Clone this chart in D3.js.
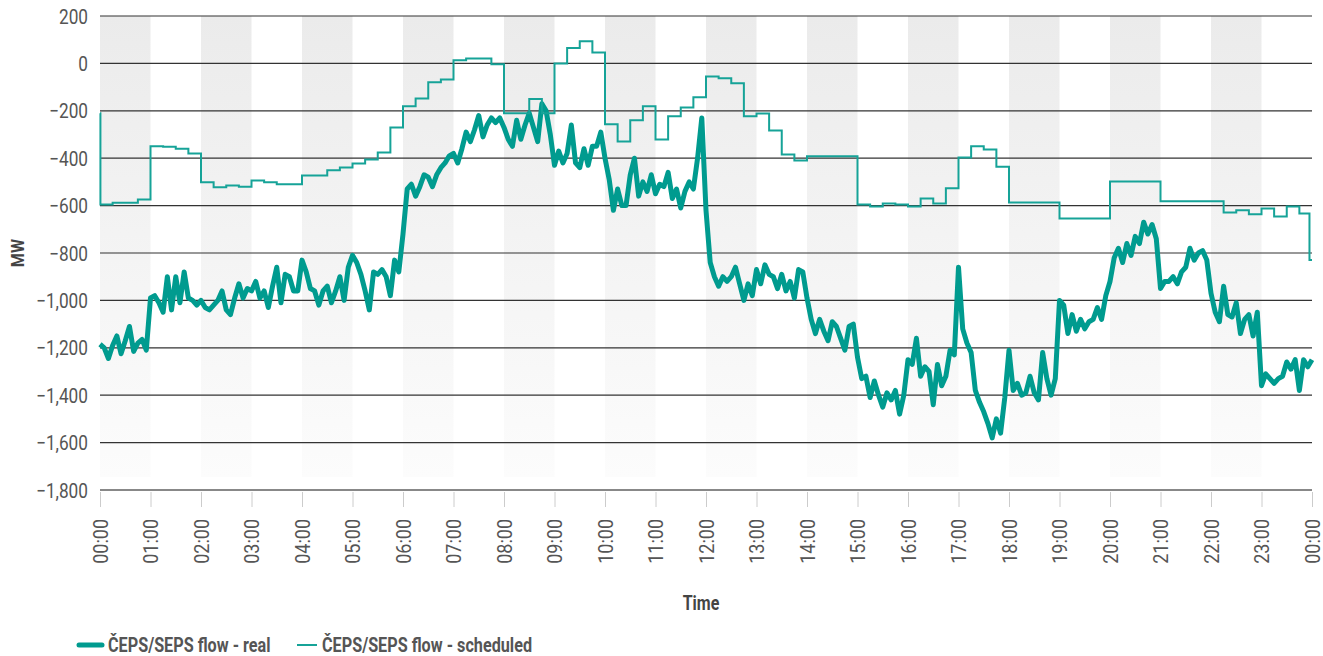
<!DOCTYPE html>
<html>
<head>
<meta charset="utf-8">
<script src="https://cdn.jsdelivr.net/npm/d3@7"></script>
<style>
  body { margin: 0; background: #fff; }
  text { font-family: Roboto, "DejaVu Sans", sans-serif; }
</style>
</head>
<body>
<div id="chart"></div>
<script>
// Real flow, one value every 5 minutes, one array per hour (MW)
const real00 = [-1185, -1200, -1245, -1190, -1150, -1225, -1170, -1110, -1215, -1180, -1165, -1210];
const real01 = [-990, -980, -1010, -1050, -900, -1040, -900, -1010, -880, -990, -1000, -1020];
const real02 = [-1000, -1030, -1040, -1020, -1000, -960, -1040, -1060, -990, -930, -990, -950];
const real03 = [-960, -920, -990, -960, -1030, -940, -860, -1010, -890, -900, -960, -960];
const real04 = [-830, -880, -950, -960, -1020, -960, -940, -1010, -960, -900, -1000, -860];
const real05 = [-810, -840, -890, -960, -1040, -880, -890, -870, -900, -980, -830, -880];
const real06 = [-720, -530, -510, -560, -520, -470, -480, -520, -470, -440, -420, -390];
const real07 = [-380, -420, -360, -290, -330, -280, -220, -310, -260, -230, -250, -230];
const real08 = [-270, -320, -350, -240, -320, -260, -210, -270, -330, -170, -200, -300];
const real09 = [-430, -370, -420, -380, -260, -420, -440, -360, -430, -350, -350, -290];
const real10 = [-400, -490, -620, -530, -600, -600, -470, -400, -560, -500, -540, -470];
const real11 = [-550, -510, -520, -460, -570, -530, -610, -540, -500, -530, -400, -230];
const real12 = [-620, -840, -900, -940, -900, -920, -900, -860, -930, -1000, -930, -980];
const real13 = [-870, -930, -850, -890, -900, -950, -890, -960, -920, -990, -870, -880];
const real14 = [-990, -1080, -1140, -1080, -1130, -1170, -1090, -1110, -1160, -1210, -1110, -1100];
const real15 = [-1240, -1330, -1320, -1410, -1340, -1400, -1450, -1390, -1420, -1380, -1480, -1400];
const real16 = [-1250, -1270, -1160, -1320, -1280, -1300, -1440, -1270, -1360, -1320, -1210, -1230];
const real17 = [-860, -1120, -1180, -1220, -1380, -1430, -1470, -1520, -1580, -1500, -1560, -1410];
const real18 = [-1210, -1380, -1350, -1400, -1390, -1320, -1390, -1420, -1220, -1330, -1400, -1330];
const real19 = [-1000, -1020, -1140, -1060, -1130, -1080, -1120, -1090, -1080, -1030, -1080, -980];
const real20 = [-920, -820, -780, -840, -760, -810, -730, -760, -670, -720, -680, -740];
const real21 = [-950, -920, -920, -900, -930, -880, -860, -780, -830, -800, -790, -830];
const real22 = [-970, -1050, -1090, -940, -1060, -1070, -1010, -1140, -1080, -1060, -1150, -1050];
const real23 = [-1360, -1310, -1330, -1350, -1330, -1320, -1260, -1290, -1250, -1380, -1250, -1280];
const realEnd = [-1250];

// Scheduled flow: [minute of day, MW] at each step change
const scheduledSteps = [
  [0, -210], [0.5, -595], [15, -588], [45, -574], [60, -350], [75, -352], [90, -360],
  [105, -380], [120, -502], [135, -523], [150, -515], [165, -520], [180, -494], [195, -502],
  [210, -510], [240, -473], [270, -451], [285, -439], [300, -422], [315, -405], [330, -376],
  [345, -270], [360, -181], [375, -148], [390, -80], [405, -68], [420, 13], [435, 21],
  [465, -4], [480, -210], [510, -150], [525, -210], [540, 0], [555, 65], [570, 93],
  [585, 46], [600, -257], [615, -330], [630, -240], [645, -181], [660, -321], [675, -223],
  [690, -186], [705, -143], [720, -55], [735, -63], [750, -84], [765, -223], [780, -211],
  [795, -283], [810, -384], [825, -410], [840, -392], [900, -595], [915, -604], [930, -591],
  [945, -595], [960, -604], [975, -570], [990, -591], [1005, -527], [1020, -397], [1035, -350],
  [1050, -363], [1065, -436], [1080, -587], [1140, -654], [1200, -498], [1260, -582],
  [1335, -629], [1350, -620], [1365, -637], [1380, -612], [1395, -646], [1410, -604],
  [1425, -633], [1437, -830], [1440, -830]
];

const yTicks = [200, 0, -200, -400, -600, -800, -1000, -1200, -1400, -1600, -1800];
const hourTicks = d3.range(0, 25);
const seriesNames = ["ČEPS/SEPS flow - real", "ČEPS/SEPS flow - scheduled"];

// Build the real series as [minute, value]
const realValues = [].concat(real00, real01, real02, real03, real04, real05, real06, real07,
  real08, real09, real10, real11, real12, real13, real14, real15, real16, real17,
  real18, real19, real20, real21, real22, real23, realEnd);
const realSeries = realValues.map((v, i) => [i * 5, v]);

// Dimensions
const width = 1323;
const height = 656;
const plotLeft = 100, plotRight = 1312, plotTop = 16, plotBottom = 490;
const lineColor = "#009b8f";
const schedColor = "#16a398";

const svg = d3.select("#chart")
  .append("svg")
  .attr("width", width)
  .attr("height", height);

// Squeeze text horizontally so it looks like the condensed original font
function condense(selection, factor) {
  selection.each(function () {
    const w = this.getComputedTextLength();
    d3.select(this)
      .attr("textLength", w * factor)
      .attr("lengthAdjust", "spacingAndGlyphs");
  });
}

// Scales
const x = d3.scaleLinear().domain([0, 1440]).range([plotLeft, plotRight]);
const y = d3.scaleLinear().domain([-1800, 200]).range([plotBottom, plotTop]);

// Shaded band gradient
const defs = svg.append("defs");
const grad = defs.append("linearGradient")
  .attr("id", "bandGrad")
  .attr("x1", 0).attr("y1", 0).attr("x2", 0).attr("y2", 1);
grad.append("stop").attr("offset", "0%").attr("stop-color", "#ebebeb");
grad.append("stop").attr("offset", "100%").attr("stop-color", "#fcfcfc");

// Alternate hour bands (even hours shaded)
svg.append("g")
  .selectAll("rect")
  .data(hourTicks.filter((h) => h < 24 && h % 2 === 0))
  .enter()
  .append("rect")
  .attr("x", (d) => x(d * 60))
  .attr("y", plotTop)
  .attr("width", (d) => x((d + 1) * 60) - x(d * 60))
  .attr("height", plotBottom - 13 - plotTop)
  .attr("fill", "url(#bandGrad)");

// Horizontal grid lines
svg.append("g")
  .selectAll("line")
  .data(yTicks.filter((d) => d > -1800))
  .enter()
  .append("line")
  .attr("x1", plotLeft)
  .attr("x2", plotRight)
  .attr("y1", (d) => y(d))
  .attr("y2", (d) => y(d))
  .attr("stroke", "#333")
  .attr("stroke-width", 1.2);

// Bottom axis line
svg.append("line")
  .attr("x1", plotLeft).attr("x2", plotRight)
  .attr("y1", y(-1800)).attr("y2", y(-1800))
  .attr("stroke", "#888")
  .attr("stroke-width", 2);

// Y tick labels
svg.append("g")
  .selectAll("text")
  .data(yTicks)
  .enter()
  .append("text")
  .attr("x", 88)
  .attr("y", (d) => y(d))
  .attr("dy", "0.36em")
  .attr("text-anchor", "end")
  .attr("fill", "#555")
  .style("font-size", "21px")
  .text(d3.format(","))
  .call(condense, 0.82);

// X axis ticks and labels
const xAxis = d3.axisBottom(x)
  .tickValues(hourTicks.map((h) => h * 60))
  .tickSize(15)
  .tickFormat((d) => String((d / 60) % 24).padStart(2, "0") + ":00");

const gx = svg.append("g")
  .attr("transform", `translate(0, ${plotBottom + 2})`)
  .call(xAxis)
  .attr("font-family", null)
  .attr("font-size", null);
gx.select(".domain").remove();
gx.selectAll(".tick line").attr("stroke", "#ccc");
gx.selectAll(".tick text")
  .attr("transform", "rotate(-90)")
  .attr("x", -27)
  .attr("y", 0)
  .attr("dy", "0.36em")
  .style("text-anchor", "end")
  .style("font-size", "20px")
  .attr("fill", "#555")
  .call(condense, 0.9);

// Axis titles
svg.append("text")
  .attr("transform", `translate(24, ${(plotTop + plotBottom) / 2}) rotate(-90)`)
  .attr("text-anchor", "middle")
  .attr("fill", "#444")
  .style("font-size", "19px")
  .style("font-weight", "bold")
  .text("MW")
  .call(condense, 0.85);

svg.append("text")
  .attr("x", 701)
  .attr("y", 610)
  .attr("text-anchor", "middle")
  .attr("fill", "#444")
  .style("font-size", "20px")
  .style("font-weight", "bold")
  .text("Time")
  .call(condense, 0.8);

// Lines
const line = d3.line()
  .x((d) => x(d[0]))
  .y((d) => y(d[1]));

svg.append("path")
  .datum(realSeries)
  .attr("d", line)
  .attr("fill", "none")
  .attr("stroke", lineColor)
  .attr("stroke-width", 5)
  .attr("stroke-linejoin", "round");

svg.append("path")
  .datum(scheduledSteps)
  .attr("d", line.curve(d3.curveStepAfter))
  .attr("fill", "none")
  .attr("stroke", schedColor)
  .attr("stroke-width", 2);

// Legend
const legend = svg.append("g");
legend.append("line")
  .attr("x1", 79).attr("x2", 102).attr("y1", 645).attr("y2", 645)
  .attr("stroke", lineColor).attr("stroke-width", 5).attr("stroke-linecap", "round");
legend.append("text")
  .attr("x", 108).attr("y", 652)
  .attr("fill", "#555")
  .style("font-size", "20px").style("font-weight", "bold")
  .text(seriesNames[0])
  .call(condense, 0.81);
legend.append("line")
  .attr("x1", 297).attr("x2", 317).attr("y1", 645).attr("y2", 645)
  .attr("stroke", schedColor).attr("stroke-width", 2);
legend.append("text")
  .attr("x", 322).attr("y", 652)
  .attr("fill", "#555")
  .style("font-size", "20px").style("font-weight", "bold")
  .text(seriesNames[1])
  .call(condense, 0.81);
</script>
</body>
</html>
